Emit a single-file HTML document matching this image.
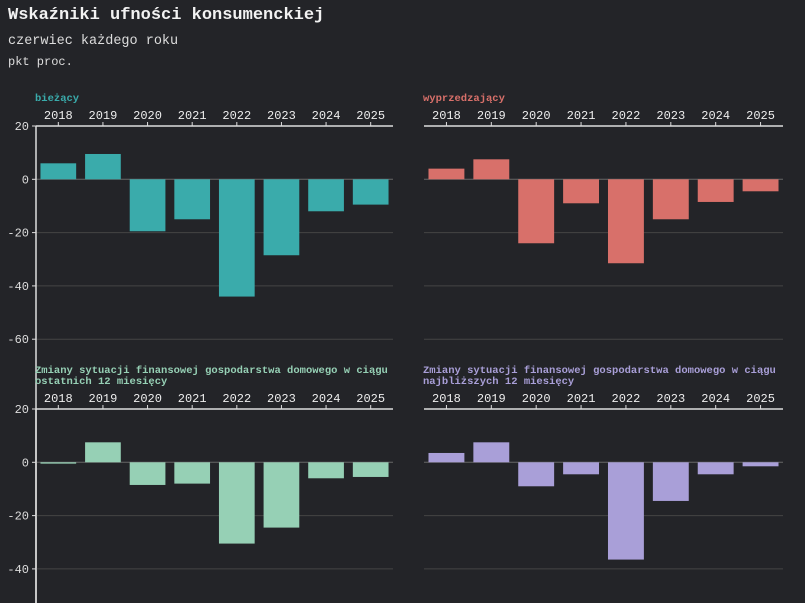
<!DOCTYPE html>
<html><head><meta charset="utf-8"><style>
body{margin:0;background:#232428;width:805px;height:603px;overflow:hidden;font-family:"Liberation Mono",monospace;color:#eee}
.t{position:absolute;left:8px;margin:0}
</style></head><body>
<div class="t" style="top:6px;font-size:17px;font-weight:bold;color:#f2f2f2">Wskaźniki ufności konsumenckiej</div>
<div class="t" style="top:34px;font-size:13.5px;color:#ddd">czerwiec każdego roku</div>
<div class="t" style="top:55px;font-size:12px;color:#ddd">pkt proc.</div>
<svg id="c" width="805" height="603" style="position:absolute;left:0;top:0"></svg>
<script>
const years=["2018","2019","2020","2021","2022","2023","2024","2025"];
const bieżący=[6,9.5,-19.5,-15,-44,-28.5,-12,-9.5];
const wyprzedzajacy=[4,7.5,-24,-9,-31.5,-15,-8.5,-4.5];
const ostatnie12=[-0.5,7.5,-8.5,-8,-30.5,-24.5,-6,-5.5];
const najblizsze12=[3.5,7.5,-9,-4.5,-36.5,-14.5,-4.5,-1.5];
const yTicks=[20,0,-20,-40,-60];
const panels=[
 {name:"biezacy",title:["bieżący"],vals:bieżący,col:"#3aabab",x0:36,x1:393,top:126,axis:true},
 {name:"wyprzedzajacy",title:["wyprzedzający"],vals:wyprzedzajacy,col:"#d8706a",x0:424,x1:783,top:126,axis:false},
 {name:"ostatnie-12",title:["Zmiany sytuacji finansowej gospodarstwa domowego w ciągu","ostatnich 12 miesięcy"],vals:ostatnie12,col:"#96d0b5",x0:36,x1:393,top:409,axis:true},
 {name:"najblizsze-12",title:["Zmiany sytuacji finansowej gospodarstwa domowego w ciągu","najbliższych 12 miesięcy"],vals:najblizsze12,col:"#a99fd8",x0:424,x1:783,top:409,axis:false}
];
const svg=document.getElementById('c');const NS="http://www.w3.org/2000/svg";
function mk(t,a,p){const e=document.createElementNS(NS,t);for(const k in a)e.setAttribute(k,a[k]);(p||svg).appendChild(e);return e;}
panels.forEach(p=>{
 const g=mk('g',{});
 
 
 const y=v=>p.top+(20-v)*2.665;
 const step=(p.x1-p.x0)/years.length;
 const x=i=>p.x0+step*(i+0.5);
 p.title.forEach((l,k)=>{const tt=mk('text',{x:p.x0-1,y:p.top-(p.title.length>1?36:25)+k*11,fill:p.col,'font-size':10.5,'font-weight':'bold','font-family':'Liberation Mono, monospace'},g);tt.textContent=l;
  
  });
 yTicks.forEach(t=>{if(y(t)>603)return;
  if(t!==20)mk('line',{x1:p.x0,x2:p.x1,y1:y(t),y2:y(t),stroke:t===0?'#666':'#444','stroke-width':1},g);
  if(p.axis){mk('line',{x1:p.x0-4,x2:p.x0,y1:y(t),y2:y(t),stroke:'#ddd'},g);
   const lt=mk('text',{x:p.x0-7,y:y(t)+4,fill:'#ddd','font-size':12,'text-anchor':'end','font-family':'Liberation Mono, monospace'},g);lt.textContent=t;
   
   }
 });
 if(p.axis)mk('line',{x1:p.x0,x2:p.x0,y1:p.top,y2:603,stroke:'#ddd','stroke-width':1.5},g);
 p.vals.forEach((v,i)=>{const bw=step*0.8;const r=mk('rect',{x:x(i)-bw/2,y:Math.min(y(v),y(0)),width:bw,height:Math.max(1,Math.abs(y(v)-y(0))),fill:p.col},g);
  
  });
 mk('line',{x1:p.x0,x2:p.x1,y1:p.top,y2:p.top,stroke:'#ddd','stroke-width':1.5},g);
 years.forEach((yr,i)=>{mk('line',{x1:x(i),x2:x(i),y1:p.top-4,y2:p.top,stroke:'#ddd'},g);
  const tt=mk('text',{x:x(i),y:p.top-7,fill:'#eee','font-size':12,'text-anchor':'middle','font-family':'Liberation Mono, monospace'},g);tt.textContent=yr;
  
  });
});
</script>
</body></html>
